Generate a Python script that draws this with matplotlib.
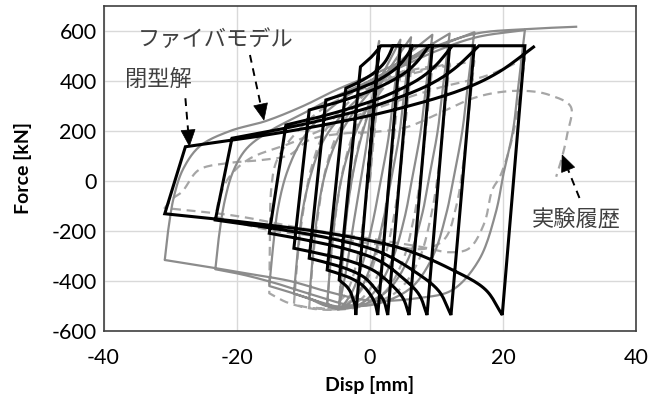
import numpy as np
import matplotlib
matplotlib.use("Agg")
import matplotlib.pyplot as plt
from matplotlib.patches import Polygon

# ---------------- data ----------------
# closed-form solution (閉型解): branches of the hysteresis path, in order
closed_start = [(-0.3, 0), (1.4, 541)]
closed_L7 = [(-2.1, -536), (-2.2, -501), (-2.5, -473), (-2.9, -444), (-3.4, -424), (-4.0, -409), (-4.6, -396)]
closed_U7 = [(-1.4, 457), (0.2, 495), (1.7, 541)]
closed_P2 = [(4.6, 541)]
closed_L6 = [(1.2, -536), (0.8, -491), (0.1, -455), (-1.1, -417), (-2.6, -392), (-4.5, -372), (-6.4, -356)]
closed_U6 = [(-3.6, 371), (-2.2, 388), (-0.8, 408), (0.7, 434), (2.1, 470), (2.8, 499), (3.5, 541)]
closed_P3 = [(6.2, 541)]
closed_L5 = [(2.7, -536), (2.1, -479), (0.9, -434), (-0.8, -386), (-3.2, -354), (-6.2, -329), (-9.1, -309)]
closed_U5 = [(-6.6, 324), (-4.0, 346), (-1.4, 372), (1.3, 404), (3.9, 450), (5.2, 487), (6.5, 541)]
closed_P4 = [(9.4, 541)]
closed_L4 = [(5.9, -536), (5.0, -469), (3.3, -416), (0.7, -360), (-2.8, -322), (-7.1, -293), (-11.4, -269)]
closed_U4 = [(-9.1, 284), (-5.5, 310), (-1.9, 341), (1.7, 379), (5.3, 433), (7.1, 477), (8.9, 541)]
closed_P5 = [(12.0, 541)]
closed_L3 = [(8.6, -536), (7.4, -454), (5.0, -389), (1.5, -320), (-3.3, -274), (-9.2, -238), (-15.1, -209)]
closed_U3 = [(-12.6, 224), (-7.6, 256), (-2.6, 294), (2.4, 341), (7.4, 408), (9.9, 462), (12.4, 541)]
closed_P6 = [(15.7, 541)]
closed_L2 = [(12.2, -536), (10.4, -441), (6.9, -365), (1.6, -285), (-5.5, -232), (-14.4, -190), (-23.2, -156)]
closed_U2 = [(-20.7, 171), (-13.3, 208), (-5.9, 252), (1.6, 308), (9.0, 386), (12.7, 449), (16.4, 541)]
closed_P7 = [(23.3, 541)]
closed_L1 = [(19.9, -536), (17.4, -435), (12.3, -354), (4.7, -269), (-5.5, -212), (-18.1, -167), (-30.8, -131)]
closed_U1 = [(-27.7, 137), (-17.2, 177), (-6.8, 225), (3.7, 285), (14.1, 368), (19.4, 436), (24.6, 536)]

# fiber model (ファイバモデル)
fiber_0 = [(0, 0), (0.7, 300), (1.4, 560)]
fiber_1u = [(1.4, 560), (0.5, 360), (-0.4, 160), (-1.4, 0), (-2.5, -180), (-3.5, -350), (-4.3, -460), (-4.6, -500)]
fiber_1r = [(-4.6, -500), (-4.1, -320), (-3.4, -120), (-2.3, 60), (-0.8, 220), (1.5, 400), (4.6, 565)]
fiber_2u = [(4.6, 565), (3.7, 370), (2.8, 170), (1.7, 10), (0.4, -170), (-1.2, -340), (-3, -460), (-4.8, -510), (-6.4, -490)]
fiber_2r = [(-6.4, -490), (-5.9, -320), (-5.1, -120), (-3.9, 50), (-2.2, 190), (0, 310), (3, 450), (6.2, 575)]
fiber_3u = [(6.2, 575), (5.3, 380), (4.4, 180), (3.3, 20), (2.0, -160), (0.3, -330), (-1.8, -450), (-4, -505), (-6.5, -500), (-9.1, -470)]
fiber_3r = [(-9.1, -470), (-8.6, -310), (-7.8, -120), (-6.6, 40), (-4.8, 170), (-2, 290), (1.5, 400), (5, 490), (9.4, 585)]
fiber_4u = [(9.4, 585), (8.5, 390), (7.6, 190), (6.5, 30), (5.2, -150), (3.3, -320), (0.8, -440), (-2, -500), (-5, -510), (-8.5, -475), (-11.4, -450)]
fiber_4r = [(-11.4, -450), (-10.9, -300), (-10.1, -120), (-8.8, 30), (-7, 160), (-4, 270), (0, 370), (4, 450), (8, 525), (12, 590)]
fiber_5u = [(12, 590), (11.1, 400), (10.2, 200), (9.1, 40), (7.8, -140), (5.8, -310), (3, -430), (-0.5, -490), (-4, -505), (-8, -480), (-12, -445), (-15.1, -420)]
fiber_5r = [(-15.1, -420), (-14.6, -280), (-13.8, -110), (-12.5, 30), (-10.5, 150), (-8, 240), (-4, 330), (0, 400), (5, 470), (10, 535), (15.7, 595)]
fiber_6u = [(15.7, 595), (14.8, 400), (13.9, 200), (12.8, 40), (11.5, -130), (9.5, -300), (6.5, -420), (2.5, -480), (-2, -500), (-8, -460), (-14, -410), (-19, -375), (-23.2, -353)]
fiber_6r = [(-23.2, -353), (-22.7, -230), (-21.8, -80), (-20.5, 40), (-18.5, 130), (-15, 200), (-10, 270), (-5, 340), (0, 400), (5, 460), (10, 520), (16, 575), (23.3, 604)]
fiber_7u = [(23.3, 604), (22.4, 400), (21.5, 200), (20.2, 44), (18.9, -129), (16.4, -316), (12.4, -436), (7.4, -468), (0, -478), (-6, -445), (-12, -400), (-18, -372), (-24, -345), (-30.8, -316)]
fiber_7r = [(-30.8, -316), (-30.3, -200), (-29.4, -60), (-28, 50), (-25.5, 140), (-21, 200), (-15.6, 240), (-10, 300), (-5, 365), (0, 420), (5, 480), (10, 540), (16, 590), (23, 607), (31, 617)]

# experiment (実験履歴)
exp_0 = [(0, 0), (0.7, 200), (1.4, 380)]
exp_1u = [(1.4, 380), (0.6, 200), (-0.2, 0), (-1.2, -200), (-2.5, -380), (-3.8, -460), (-4.6, -480)]
exp_1r = [(-4.6, -480), (-4.1, -300), (-3.3, -100), (-2.2, 80), (-0.5, 250), (2, 370), (4.6, 430)]
exp_2u = [(4.6, 430), (3.8, 220), (3.0, 20), (1.9, -180), (0.2, -360), (-2, -460), (-4.5, -500), (-6.4, -500)]
exp_2r = [(-6.4, -500), (-5.9, -320), (-5, -110), (-3.8, 70), (-2, 220), (1, 350), (3.5, 420), (6.2, 450)]
exp_3u = [(6.2, 450), (5.4, 240), (4.6, 40), (3.5, -160), (1.8, -340), (-0.8, -460), (-4, -510), (-9.1, -505)]
exp_3r = [(-9.1, -505), (-8.6, -330), (-7.7, -120), (-6.5, 60), (-4.5, 210), (-1, 340), (3, 420), (9.4, 460)]
exp_4u = [(9.4, 460), (8.6, 250), (7.8, 50), (6.6, -150), (4.8, -330), (2, -450), (-3, -505), (-8, -510), (-11.4, -495)]
exp_4r = [(-11.4, -495), (-10.9, -320), (-10, -120), (-8.7, 60), (-6.5, 210), (-2.5, 330), (3, 410), (12, 470)]
exp_5u = [(12, 470), (11.2, 260), (10.4, 60), (9.2, -140), (7.3, -320), (4.2, -440), (-1, -500), (-7, -515), (-12.1, -489), (-15.1, -449)]
exp_5r = [(-15.1, -449), (-15.0, -250), (-14.8, -30), (-14, 80), (-11.5, 180), (-7, 290), (0, 380), (8, 440), (15.7, 480)]
exp_6u = [(15.7, 480), (14.9, 280), (14.1, 80), (13.0, -100), (11.3, -230), (8.5, -270), (3, -260), (-5, -230), (-15.1, -196), (-23.2, -143)]
exp_6r = [(-23.2, -143), (-22.5, -60), (-21, 20), (-18, 90), (-12, 150), (-5, 230), (2, 300), (10, 370), (17.4, 420), (21, 460), (23.3, 490)]
exp_7u = [(23.3, 490), (22.3, 300), (21.2, 150), (19.6, 20), (18.4, -36), (17.2, -169), (14.9, -270), (12, -285), (8, -265), (0, -230), (-10, -190), (-20, -140), (-30.8, -108)]
exp_7r = [(-30.8, -108), (-29.6, -70), (-28.2, -43), (-25.7, 44), (-21.2, 72), (-16.2, 84), (-12.1, 104), (-9.1, 164), (-4, 190), (0.5, 196), (5.4, 214), (10.4, 271), (15.4, 330), (19.4, 355), (23.7, 360), (27, 344), (30.2, 297), (29.7, 192), (28.9, 97), (28, 17)]

x_ticks = [-40, -20, 0, 20, 40]
y_ticks = [-600, -400, -200, 0, 200, 400, 600]
x_label = "Disp [mm]"
y_label = "Force [kN]"
label_closed = "閉型解"
label_fiber = "ファイバモデル"
label_exp = "実験履歴"

closed_branches = [closed_start, closed_L7, closed_U7, closed_P2, closed_L6, closed_U6, closed_P3,
                   closed_L5, closed_U5, closed_P4, closed_L4, closed_U4, closed_P5, closed_L3, closed_U3,
                   closed_P6, closed_L2, closed_U2, closed_P7, closed_L1, closed_U1]
fiber_branches = [fiber_0, fiber_1u, fiber_1r, fiber_2u, fiber_2r, fiber_3u, fiber_3r, fiber_4u, fiber_4r,
                  fiber_5u, fiber_5r, fiber_6u, fiber_6r, fiber_7u, fiber_7r]
exp_branches = [exp_0, exp_1u, exp_1r, exp_2u, exp_2r, exp_3u, exp_3r, exp_4u, exp_4r,
                exp_5u, exp_5r, exp_6u, exp_6r, exp_7u, exp_7r]


# ---------------- rendering helpers ----------------
def smooth(points, n=14):
    """Centripetal Catmull-Rom rendering through the given points (like a smoothed line)."""
    p = np.asarray(points, float)
    if len(p) < 3:
        return p
    s = np.array([6.65, 0.25])
    q = p * s
    ext = np.vstack([2 * q[0] - q[1], q, 2 * q[-1] - q[-2]])
    out = [q[0]]
    for i in range(1, len(ext) - 2):
        P0, P1, P2, P3 = ext[i - 1], ext[i], ext[i + 1], ext[i + 2]
        t0 = 0.0
        t1 = t0 + max(np.linalg.norm(P1 - P0) ** 0.5, 1e-6)
        t2 = t1 + max(np.linalg.norm(P2 - P1) ** 0.5, 1e-6)
        t3 = t2 + max(np.linalg.norm(P3 - P2) ** 0.5, 1e-6)
        for t in np.linspace(t1, t2, n)[1:]:
            A1 = (t1 - t) / (t1 - t0) * P0 + (t - t0) / (t1 - t0) * P1
            A2 = (t2 - t) / (t2 - t1) * P1 + (t - t1) / (t2 - t1) * P2
            A3 = (t3 - t) / (t3 - t2) * P2 + (t - t2) / (t3 - t2) * P3
            B1 = (t2 - t) / (t2 - t0) * A1 + (t - t0) / (t2 - t0) * A2
            B2 = (t3 - t) / (t3 - t1) * A2 + (t - t1) / (t3 - t1) * A3
            C = (t2 - t) / (t2 - t1) * B1 + (t - t1) / (t2 - t1) * B2
            out.append(C)
    return np.array(out) / s


def path(branches):
    parts = [smooth(b) for b in branches]
    arr = np.vstack(parts)
    return arr[:, 0], arr[:, 1]


# ---------------- figure ----------------
plt.rcParams['font.family'] = ['Lato', 'Noto Sans CJK JP', 'DejaVu Sans']
plt.rcParams['axes.unicode_minus'] = False
fig = plt.figure(figsize=(6.64, 4.0), dpi=100)
ax = fig.add_axes([0.1559, 0.1725, 0.8020, 0.8125])

ex, ey = path(exp_branches)
ax.plot(ex, ey, color='#a6a6a6', lw=1.6, linestyle=(0, (4, 2.6)), zorder=2)
fx, fy = path(fiber_branches)
ax.plot(fx, fy, color='#8c8c8c', lw=1.6, solid_joinstyle='round', zorder=3)
cx, cy = path(closed_branches)
ax.plot(cx, cy, color='black', lw=2.2, solid_joinstyle='miter', zorder=4)

ax.set_xlim(-40, 40)
ax.set_ylim(-600, 700)
ax.set_xticks(x_ticks)
ax.set_yticks(y_ticks)
ax.tick_params(length=0, labelsize=15.5, colors='#000000')
ax.tick_params(axis='x', pad=12)
ax.tick_params(axis='y', pad=5)
ax.grid(True, color='#d9d9d9', lw=1.0, zorder=0)
ax.set_axisbelow(True)
for sp in ax.spines.values():
    sp.set_color('#404040')
    sp.set_linewidth(1.2)

ax.set_xlabel(x_label, fontsize=14, fontweight='bold', labelpad=6)
ax.set_ylabel(y_label, fontsize=14, fontweight='bold', labelpad=14)

cjk = ['Noto Sans CJK JP', 'DejaVu Sans']
txt_color = '#404040'
ax.text(-31.8, 408, label_closed, fontsize=16, family=cjk, color=txt_color, ha='center', va='center', zorder=6)
ax.text(-23.1, 566, label_fiber, fontsize=16, family=cjk, color=txt_color, ha='center', va='center', zorder=6)
ax.text(31.1, -156, label_exp, fontsize=16, family=cjk, color=txt_color, ha='center', va='center', zorder=6)


def dashed_arrow(start, tip, head_len=16.0, head_half=7.0):
    tr = ax.transData
    ps = tr.transform(start)
    pt = tr.transform(tip)
    u = (pt - ps) / np.linalg.norm(pt - ps)
    nrm = np.array([-u[1], u[0]])
    base = pt - u * head_len
    inv = tr.inverted()
    b = inv.transform(base)
    ax.plot([start[0], b[0]], [start[1], b[1]], color='black', lw=1.4,
            linestyle=(0, (4, 3)), zorder=7, solid_capstyle='butt')
    tri = inv.transform(np.array([pt, base + nrm * head_half, base - nrm * head_half]))
    ax.add_patch(Polygon(tri, closed=True, facecolor='black', edgecolor='black', lw=0.5, zorder=7))


dashed_arrow((-27.7, 331), (-27.1, 140))
dashed_arrow((-18.0, 504), (-15.9, 244))
dashed_arrow((31.5, -68), (28.9, 104))

fig.savefig('out.png', dpi=100)
